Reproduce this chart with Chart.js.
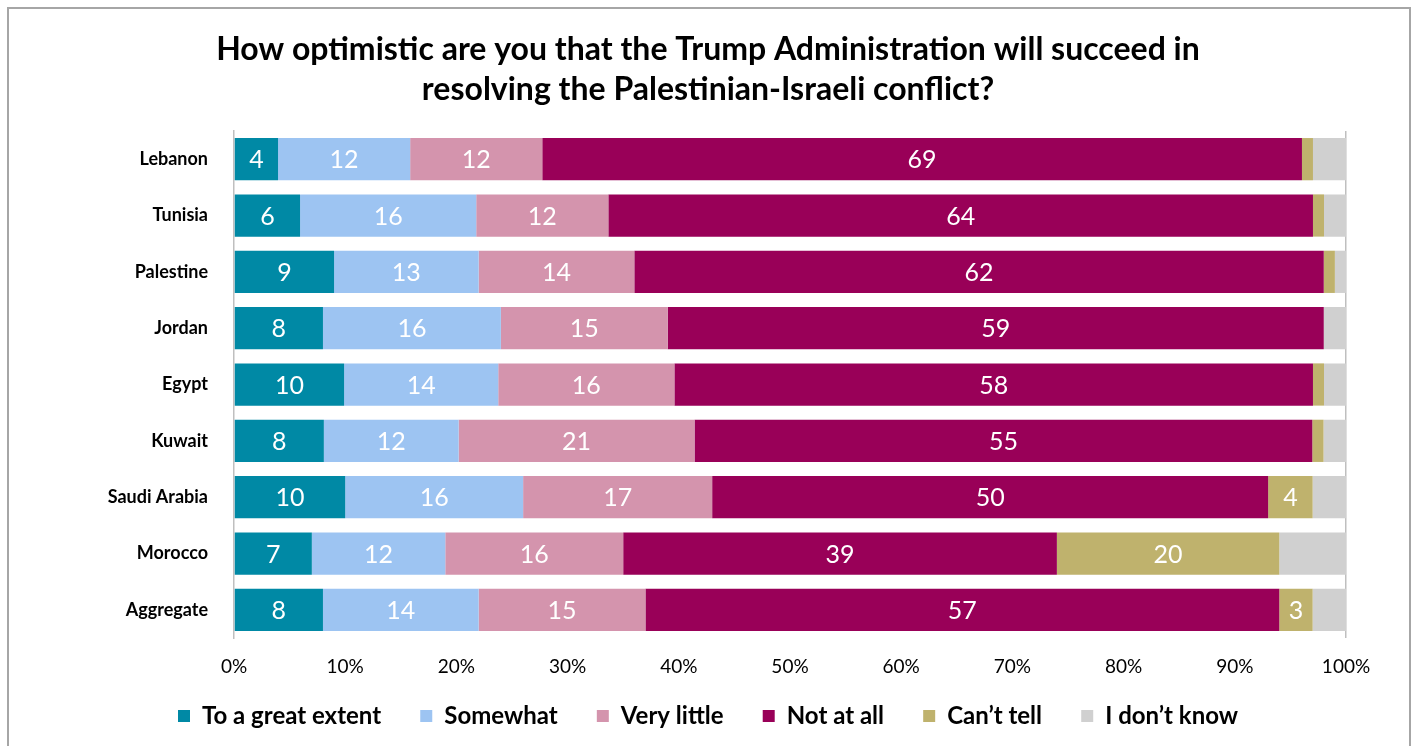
<!DOCTYPE html>
<html>
<head>
<meta charset="utf-8">
<script src="https://cdn.jsdelivr.net/npm/chart.js@4.4.1/dist/chart.umd.min.js"></script>
<style>
  html, body { margin: 0; padding: 0; background: #fff; }
  #wrap { width: 1412px; height: 746px; }
</style>
</head>
<body>
<div id="wrap"><canvas id="barChart" width="1412" height="746"></canvas></div>
<script>
var countries = ["Lebanon", "Tunisia", "Palestine", "Jordan", "Egypt", "Kuwait", "Saudi Arabia", "Morocco", "Aggregate"];
var seriesNames = ["To a great extent", "Somewhat", "Very little", "Not at all", "Can\u2019t tell", "I don\u2019t know"];
var seriesColors = ["#0089A5", "#9DC4F2", "#D494AD", "#990058", "#BFB26D", "#D0D0D0"];

var greatExtent = [4, 6, 9, 8, 10, 8, 10, 7, 8];
var somewhat    = [12, 16, 13, 16, 14, 12, 16, 12, 14];
var veryLittle  = [12, 12, 14, 15, 16, 21, 17, 16, 15];
var notAtAll    = [69, 64, 62, 59, 58, 55, 50, 39, 57];
var cantTell    = [1, 1, 1, 0, 1, 1, 4, 20, 3];
var dontKnow    = [3, 2, 1, 2, 2, 2, 3, 6, 3];

var xTicks = [0, 10, 20, 30, 40, 50, 60, 70, 80, 90, 100];

var FONT = "Lato, 'Open Sans', sans-serif";

// 100% stacked: each row is scaled by its own total
var rawSeries = [greatExtent, somewhat, veryLittle, notAtAll, cantTell, dontKnow];
var totals = countries.map(function (c, i) {
    return rawSeries.reduce(function (s, arr) { return s + arr[i]; }, 0);
});

var datasets = rawSeries.map(function (arr, k) {
    return {
        label: seriesNames[k],
        data: arr.map(function (v, i) { return v / totals[i] * 100; }),
        raw: arr,
        backgroundColor: seriesColors[k],
        borderWidth: 0,
        barPercentage: 0.75,
        categoryPercentage: 1.0
    };
});

// white numbers inside the segments
var valueLabels = {
    id: "valueLabels",
    afterDatasetsDraw: function (chart) {
        var ctx = chart.ctx;
        ctx.save();
        ctx.font = "25px " + FONT;
        ctx.fillStyle = "#fff";
        ctx.textAlign = "center";
        ctx.textBaseline = "middle";
        chart.data.datasets.forEach(function (ds, k) {
            if (k > 4) return;
            chart.getDatasetMeta(k).data.forEach(function (bar, i) {
                var v = ds.raw[i];
                if (v < 3) return;
                var p = bar.getProps(["x", "y", "base"], true);
                ctx.fillText(String(v), (p.x + p.base) / 2, p.y + 1);
            });
        });
        ctx.restore();
    }
};

// grey frame round the whole chart
var frame = {
    id: "frame",
    beforeDraw: function (chart) {
        var ctx = chart.ctx;
        ctx.save();
        ctx.fillStyle = "#fff";
        ctx.fillRect(0, 0, chart.width, chart.height);
        ctx.strokeStyle = "#a6a6a6";
        ctx.lineWidth = 2;
        ctx.strokeRect(8, 8, chart.width - 10, chart.height - 6);
        ctx.restore();
    }
};

var ctx = document.getElementById("barChart").getContext("2d");
new Chart(ctx, {
    type: "bar",
    data: { labels: countries, datasets: datasets },
    plugins: [frame, valueLabels],
    options: {
        indexAxis: "y",
        responsive: false,
        animation: false,
        layout: { padding: { left: 4, right: 0, top: 0, bottom: 8 } },
        plugins: {
            title: {
                display: true,
                text: ["How optimistic are you that the Trump Administration will succeed in", "resolving the Palestinian-Israeli conflict?"],
                color: "#000",
                font: { family: FONT, size: 32, weight: "bold", lineHeight: 1.25 },
                padding: { top: 30, bottom: 21 }
            },
            legend: {
                position: "bottom",
                labels: {
                    color: "#000",
                    font: { family: FONT, size: 24, weight: "bold" },
                    boxWidth: 12,
                    boxHeight: 12,
                    padding: 10,
                    generateLabels: function (chart) {
                        var items = Chart.defaults.plugins.legend.labels.generateLabels(chart);
                        items.forEach(function (it, i) {
                            if (i < items.length - 1) it.text = it.text + "     ";
                        });
                        return items;
                    }
                }
            },
            tooltip: { enabled: false }
        },
        scales: {
            x: {
                stacked: true,
                min: 0,
                max: 100,
                afterBuildTicks: function (s) {
                    s.ticks = xTicks.map(function (v) { return { value: v }; });
                },
                afterFit: function (s) { s.height = 56; },
                ticks: {
                    color: "#000",
                    font: { family: FONT, size: 19 },
                    padding: 17,
                    callback: function (v) { return v + "%"; }
                },
                grid: {
                    drawTicks: false,
                    color: function (c) { return c.tick && c.tick.value === 100 ? "#bfbfbf" : "rgba(0,0,0,0)"; },
                    lineWidth: 1.5
                },
                border: { display: false }
            },
            y: {
                stacked: true,
                afterFit: function (s) { s.width = 230; },
                ticks: {
                    color: "#000",
                    font: { family: FONT, size: 18, weight: "bold" },
                    padding: 26
                },
                grid: { display: false, drawTicks: false },
                border: { display: true, color: "#bfbfbf", width: 1.5 }
            },
            yRight: {
                axis: "y",
                position: "right",
                afterFit: function (s) { s.width = 66; },
                ticks: { display: false },
                grid: { display: false, drawTicks: false },
                border: { display: false }
            }
        }
    }
});
</script>
</body>
</html>
